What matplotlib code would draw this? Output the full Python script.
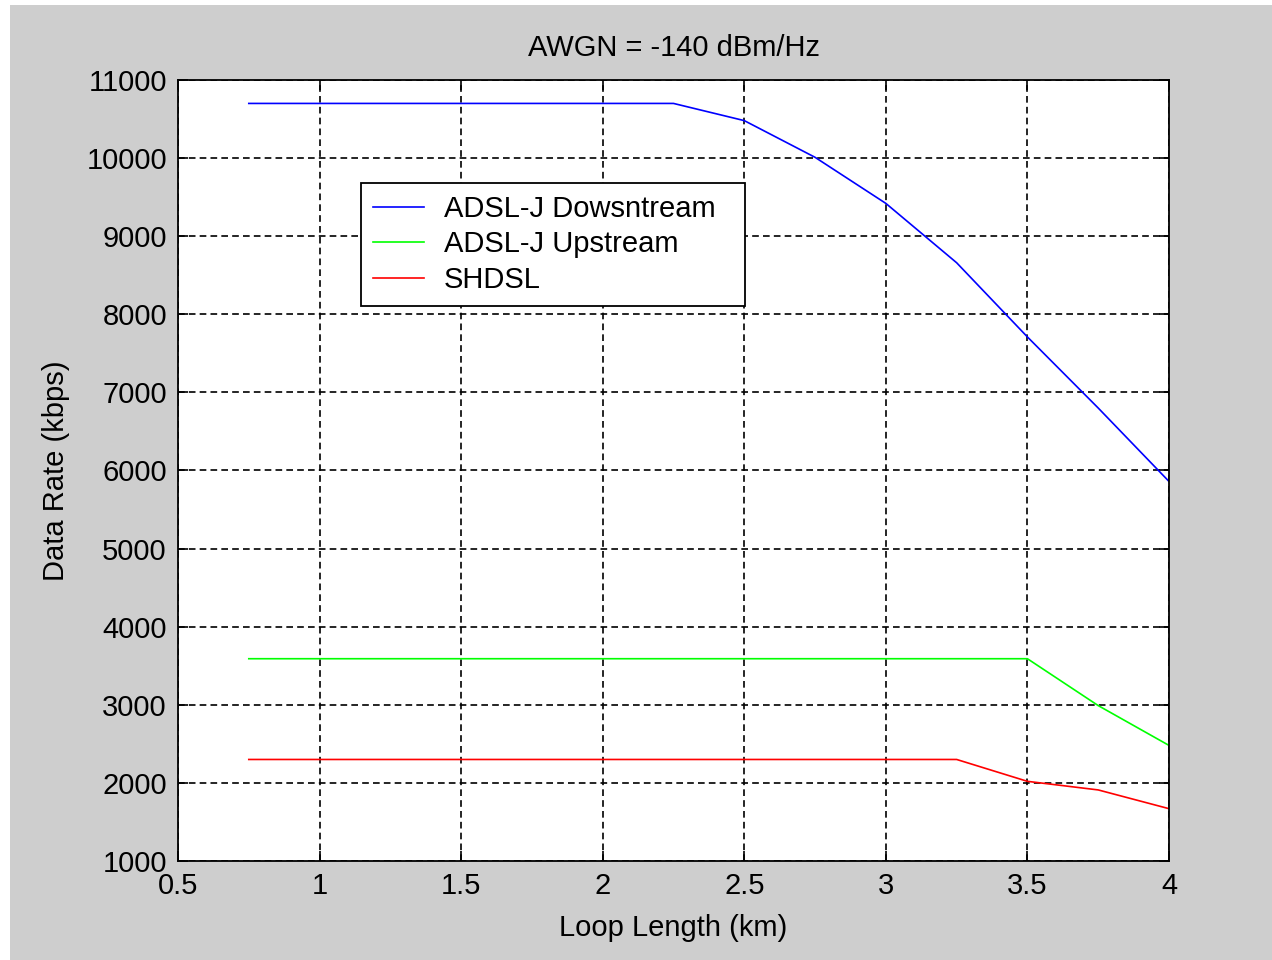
import numpy as np
import matplotlib.pyplot as plt
from matplotlib.patches import Rectangle

plt.rcParams['font.family'] = ['Liberation Sans', 'DejaVu Sans']

# Loop length (km)
loop_km = [0.75, 1.0, 1.25, 1.5, 1.75, 2.0, 2.25, 2.5, 2.75, 3.0, 3.25, 3.5, 3.75, 4.0]

# Data rates (kbps)
adsl_down = [10700, 10700, 10700, 10700, 10700, 10700, 10700, 10480, 10010, 9420, 8660, 7710, 6800, 5860]
adsl_up = [3590, 3590, 3590, 3590, 3590, 3590, 3590, 3590, 3590, 3590, 3590, 3590, 2990, 2480]
shdsl = [2300, 2300, 2300, 2300, 2300, 2300, 2300, 2300, 2300, 2300, 2300, 2020, 1910, 1670]

x_ticks = [0.5, 1, 1.5, 2, 2.5, 3, 3.5, 4]
x_labels = ['0.5', '1', '1.5', '2', '2.5', '3', '3.5', '4']
y_ticks = np.arange(1000, 11001, 1000)

fig = plt.figure(figsize=(12.72, 9.6), dpi=100)
fig.patch.set_facecolor('white')
# gray MATLAB-style figure background
fig.patches.append(Rectangle((10/1272, 0), 1, 1 - 5/960, transform=fig.transFigure,
                             facecolor='#cecece', edgecolor='none', zorder=-10))

ax = fig.add_axes([178/1272, 1 - 861/960, 991/1272, 781/960])
ax.set_facecolor('white')

ax.plot(loop_km, adsl_down, color='#0000ff', linewidth=1.2, label='ADSL-J Dowsntream')
ax.plot(loop_km, adsl_up, color='#00ff00', linewidth=1.2, label='ADSL-J Upstream')
ax.plot(loop_km, shdsl, color='#ff0000', linewidth=1.2, label='SHDSL')

ax.set_xlim(0.5, 4)
ax.set_ylim(1000, 11000)
ax.set_xticks(x_ticks)
ax.set_xticklabels(x_labels)
ax.set_yticks(y_ticks)
ax.tick_params(direction='in', length=7, width=1.2, top=True, right=True,
               labelsize=21, pad=8)
ax.grid(color='black', linestyle=(0, (4, 2.5)), linewidth=1.2)
for s in ax.spines.values():
    s.set_linewidth(1.3)

ax.set_title('AWGN = -140 dBm/Hz', fontsize=21, pad=17)
ax.set_xlabel('Loop Length (km)', fontsize=21, labelpad=10)
ax.set_ylabel('Data Rate (kbps)', fontsize=21, labelpad=12)

# legend box spans the same width as in the original
leg = ax.legend(loc='upper left', bbox_to_anchor=(0.1847, 0.768, 0.3875, 0.1),
                mode='expand', borderaxespad=0,
                fontsize=21, frameon=True, fancybox=False, framealpha=1,
                edgecolor='black', handlelength=1.75, borderpad=0.4,
                labelspacing=0.26, handletextpad=0.7)
leg.get_frame().set_linewidth(1.3)

fig.savefig('out.png', dpi=100, facecolor=fig.get_facecolor())
